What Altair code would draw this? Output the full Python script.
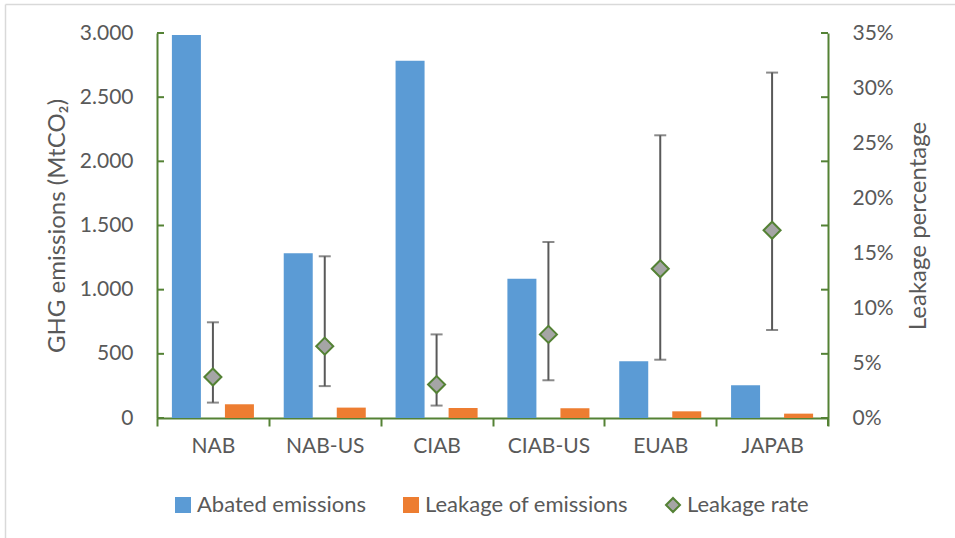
import altair as alt
import pandas as pd

categories = ["NAB", "NAB-US", "CIAB", "CIAB-US", "EUAB", "JAPAB"]
abated = [2985, 1283, 2784, 1085, 442, 255]
leakage_emissions = [107, 81, 78, 76, 52, 34]
leakage_rate = [3.73, 6.53, 3.04, 7.6, 13.57, 17.07]
rate_low = [1.4, 2.9, 1.13, 3.43, 5.3, 8.0]
rate_high = [8.7, 14.7, 7.6, 16.0, 25.7, 31.4]

left_ticks = [0, 500, 1000, 1500, 2000, 2500, 3000]
right_ticks = [0, 5, 10, 15, 20, 25, 30, 35]

bar_series = ["Abated emissions", "Leakage of emissions"]
legend_series = ["Abated emissions", "Leakage of emissions", "Leakage rate"]
fill_colors = ["#5B9BD5", "#ED7D31", "#A5A5A5"]
stroke_colors = ["#5B9BD5", "#ED7D31", "#548235"]
shapes = ["square", "square", "diamond"]

GREEN = "#548235"
TEXT = "#595959"
FONT = "Lato"
FS = 21
TFS = 24

W, H = 671, 385

df_bars = pd.DataFrame(
    [{"category": c, "series": bar_series[0], "value": v} for c, v in zip(categories, abated)]
    + [{"category": c, "series": bar_series[1], "value": v} for c, v in zip(categories, leakage_emissions)]
)
df_rate = pd.DataFrame({
    "category": categories,
    "series": ["Leakage rate"] * len(categories),
    "rate": leakage_rate,
    "low": rate_low,
    "high": rate_high,
})
df_lt = pd.DataFrame({"v": left_ticks})
df_one = pd.DataFrame({"k": [0]})

legend_def = alt.Legend(
    title=None, orient="none", legendX=15, legendY=461, direction="horizontal",
    labelFont=FONT, labelFontSize=22, labelColor=TEXT, symbolSize=196,
    labelOffset=3, columnPadding=34, symbolStrokeWidth=2, labelLimit=500,
)
fill_enc = alt.Fill("series:N", scale=alt.Scale(domain=legend_series, range=fill_colors), legend=legend_def)

x_axis = alt.Axis(
    title=None, tickBand="extent", tickSize=8, tickColor=GREEN, tickWidth=2,
    domainColor=GREEN, domainWidth=2, labelFont=FONT, labelFontSize=FS,
    labelColor=TEXT, labelPadding=9, labelAngle=0, grid=False,
)
x_enc = alt.X("category:N", sort=categories, scale=alt.Scale(paddingInner=0, paddingOuter=0), axis=x_axis)

left_axis = alt.Axis(
    title="GHG emissions (MtCO₂)", values=left_ticks, ticks=False, tickSize=0,
    domainColor=GREEN, domainWidth=2, grid=False,
    labelFont=FONT, labelFontSize=FS, labelColor=TEXT, labelPadding=24,
    labelExpr="replace(format(datum.value, ','), ',', '.')",
    titleFont=FONT, titleFontSize=TFS, titleColor=TEXT, titleFontWeight="normal",
    titleAngle=270, titleX=-100, titleY=H / 2, titleAlign="center", titleBaseline="middle",
)
left_scale = alt.Scale(domain=[0, 3000], nice=False, zero=True)

bars = alt.Chart(df_bars).mark_bar().encode(
    x=x_enc,
    xOffset=alt.XOffset("series:N", sort=bar_series,
                        scale=alt.Scale(domain=bar_series, paddingInner=0.453, paddingOuter=0.281)),
    y=alt.Y("value:Q", scale=left_scale, axis=left_axis),
    fill=fill_enc,
)

ticks_l = alt.Chart(df_lt).mark_rule(color=GREEN, strokeWidth=2).encode(
    y=alt.Y("v:Q", scale=left_scale, axis=left_axis),
    x=alt.value(0), x2=alt.value(7),
)
ticks_r = alt.Chart(df_lt).mark_rule(color=GREEN, strokeWidth=2).encode(
    y=alt.Y("v:Q", scale=left_scale, axis=left_axis),
    x=alt.value(W - 7), x2=alt.value(W),
)
ext = alt.Chart(df_one).mark_rule(color=GREEN, strokeWidth=2).encode(
    x=alt.value(W), y=alt.value(H), y2=alt.value(H + 8),
)
border_l = alt.Chart(df_one).mark_rule(color="#D9D9D9", strokeWidth=1.5).encode(
    x=alt.value(-151.5), y=alt.value(-28.5), y2=alt.value(505),
)
border_t = alt.Chart(df_one).mark_rule(color="#D9D9D9", strokeWidth=1.5).encode(
    y=alt.value(-28.5), x=alt.value(-151.5), x2=alt.value(798),
)

right_axis = alt.Axis(
    title="Leakage percentage", values=right_ticks, ticks=False, tickSize=0,
    domainColor=GREEN, domainWidth=2, grid=False, orient="right",
    labelFont=FONT, labelFontSize=FS, labelColor=TEXT, labelPadding=24,
    labelExpr="datum.value + '%'",
    titleFont=FONT, titleFontSize=TFS, titleColor=TEXT, titleFontWeight="normal",
    titleAngle=270, titleX=90, titleY=H / 2, titleAlign="center", titleBaseline="middle",
)
right_scale = alt.Scale(domain=[0, 35], nice=False, zero=True)

err = alt.Chart(df_rate).mark_rule(color=TEXT, strokeWidth=2).encode(
    x=x_enc,
    y=alt.Y("low:Q", scale=right_scale, axis=right_axis),
    y2="high:Q",
)
cap_lo = alt.Chart(df_rate).mark_tick(color=TEXT, size=12, thickness=2).encode(
    x=x_enc,
    y=alt.Y("low:Q", scale=right_scale, axis=right_axis),
)
cap_hi = alt.Chart(df_rate).mark_tick(color=TEXT, size=12, thickness=2).encode(
    x=x_enc,
    y=alt.Y("high:Q", scale=right_scale, axis=right_axis),
)
points = alt.Chart(df_rate).mark_point(filled=True, size=290, strokeWidth=2, opacity=1).encode(
    x=x_enc,
    y=alt.Y("rate:Q", scale=right_scale, axis=right_axis),
    fill=fill_enc,
    stroke=alt.Stroke("series:N", scale=alt.Scale(domain=legend_series, range=stroke_colors), legend=legend_def),
    shape=alt.Shape("series:N", scale=alt.Scale(domain=legend_series, range=shapes), legend=legend_def),
)

left_group = alt.layer(bars, ticks_l, ticks_r, ext, border_l, border_t)
right_group = alt.layer(err, cap_lo, cap_hi, points)

chart = alt.layer(left_group, right_group).resolve_scale(y="independent").properties(
    width=W, height=H,
    autosize=alt.AutoSizeParams(type="none"),
    padding={"left": 157, "top": 33, "right": 127, "bottom": 120},
    background="white",
).configure_view(stroke=None)

chart.save("out.html", embed_options={"renderer": "svg", "actions": False})
